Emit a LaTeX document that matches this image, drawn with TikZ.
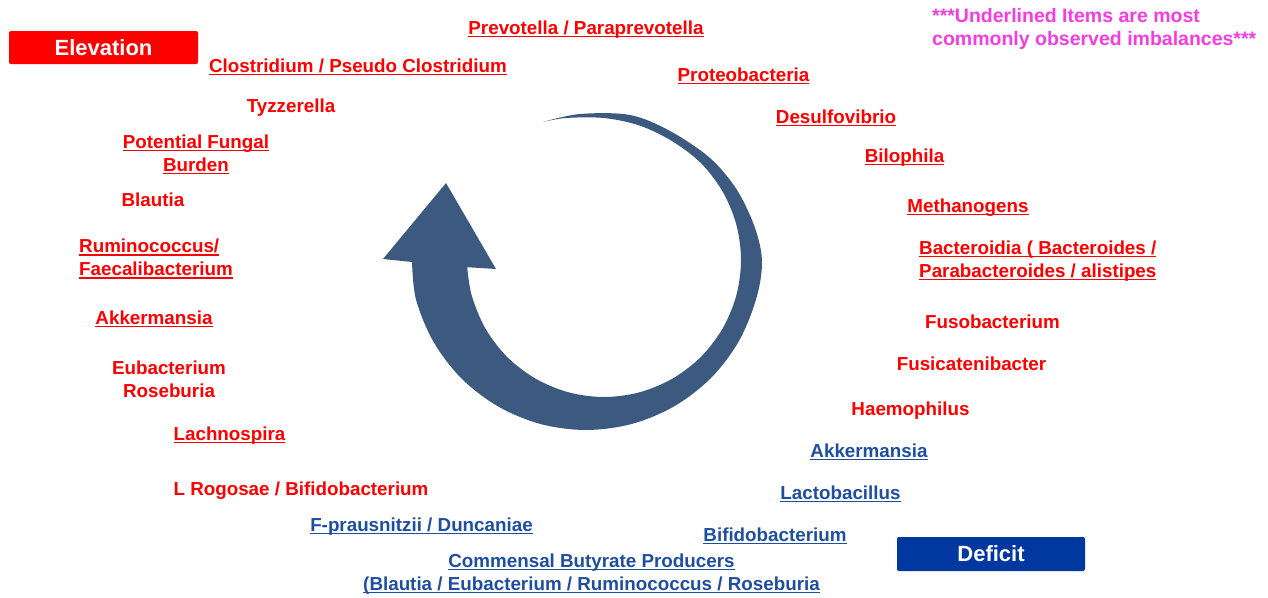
\documentclass[tikz,border=0pt]{standalone}
\usepackage{fontspec}
\setmainfont{Liberation Sans}
\definecolor{elevred}{RGB}{255,0,0}
\definecolor{defblue}{RGB}{30,78,160}
\definecolor{notepink}{RGB}{245,60,225}
\definecolor{arrowblue}{RGB}{60,90,128}
\definecolor{boxblue}{RGB}{0,56,160}
\newsavebox\ulbox
\newcommand\ulx[1]{\leavevmode\sbox\ulbox{#1}\rlap{\rule[-3pt]{\wd\ulbox}{1.4pt}}\usebox\ulbox}
\tikzset{
  lbl/.style={font=\fontsize{18.8}{22.7}\selectfont\bfseries, inner sep=0pt, anchor=base},
  el/.style={lbl, text=elevred},
  de/.style={lbl, text=defblue},
  note/.style={font=\fontsize{19.5}{23}\selectfont\bfseries, inner sep=0pt, anchor=base west, align=left, text=notepink},
  tagbox/.style={font=\fontsize{22}{26}\selectfont\bfseries, text=white, rounded corners=2pt, inner sep=0pt},
}
\begin{document}
\begin{tikzpicture}[x=1pt,y=-1pt]
\useasboundingbox (0,0) rectangle (1268,597);
% curved arrow
\fill[arrowblue]
  plot[smooth, tension=0.55] coordinates {(543,122) (580,114) (630,115) (670,131) (710,158) (737,190) (755,228) (762,262) (756,299.6) (738.4,342) (710.5,378.5) (674,406.4) (631.6,424) (586,430) (540.4,424) (498,406.4) (461.5,378.5) (433.6,342) (416,299.6) (412,262)}
  -- (383,259) -- (446,183) -- (496,269)
  -- plot[smooth, tension=0.55] coordinates {(467.2,267.2) (471.7,295.5) (485.4,328.5) (507.1,356.9) (535.5,378.6) (568.5,392.3) (604,397) (639.5,392.3) (672.5,378.6) (700.9,356.9) (722.6,328.5) (736.3,295.5) (741,260) (736.3,224.5) (722.6,191.5) (700.9,163.1) (672.5,141.4) (640,125.7) (604,118) (566,118) (543,122)}
  -- cycle;
% boxes
\node[tagbox, fill=elevred, minimum width=189pt, minimum height=33pt] (elev) at (103.5,47.5) {Elevation};
\node[tagbox, fill=boxblue, minimum width=188pt, minimum height=34pt] (deficit) at (991,554) {Deficit};
% elevation labels
\node[el] (prevotella) at (586,34) {\ulx{Prevotella / Paraprevotella}};
\node[el] (clostridium) at (358,72) {\ulx{Clostridium / Pseudo Clostridium}};
\node[el] (tyzzerella) at (291,112) {Tyzzerella};
\node[el, align=center] (fungal) at (196,171) {\ulx{Potential Fungal}\\\ulx{Burden}};
\node[el] (blautia) at (153,206) {Blautia};
\node[el, anchor=base west, align=left] (rumino) at (79,275.5) {\ulx{Ruminococcus/}\\\ulx{Faecalibacterium}};
\node[el] (akkerE) at (154,324) {\ulx{Akkermansia}};
\node[el, align=center] (eubact) at (169,397) {Eubacterium\\Roseburia};
\node[el] (lachno) at (229.5,440) {\ulx{Lachnospira}};
\node[el] (rogosae) at (301,495) {L Rogosae / Bifidobacterium};
\node[el] (proteo) at (743.5,81) {\ulx{Proteobacteria}};
\node[el] (desulfo) at (836,123) {\ulx{Desulfovibrio}};
\node[el] (bilo) at (904.5,162) {\ulx{Bilophila}};
\node[el] (methano) at (968,212) {\ulx{Methanogens}};
\node[el, anchor=base west, align=left] (bacteroidia) at (919,277) {\ulx{Bacteroidia ( Bacteroides /}\\\ulx{Parabacteroides / alistipes}};
\node[el] (fuso) at (992.5,328) {Fusobacterium};
\node[el] (fusicat) at (971.5,370) {Fusicatenibacter};
\node[el] (haemo) at (910.5,415) {Haemophilus};
% deficit labels
\node[de] (akkerD) at (869,457) {\ulx{Akkermansia}};
\node[de] (lacto) at (840.5,499) {\ulx{Lactobacillus}};
\node[de] (bifidoD) at (775,541) {\ulx{Bifidobacterium}};
\node[de] (fpraus) at (421.5,531) {\ulx{F-prausnitzii / Duncaniae}};
\node[de, align=center] (commensal) at (591.5,590) {\ulx{Commensal Butyrate Producers}\\\ulx{(Blautia / Eubacterium / Ruminococcus / Roseburia}};
% note
\node[note] (notetext) at (932,45) {***Underlined Items are most\\commonly observed imbalances***};
\end{tikzpicture}
\end{document}
